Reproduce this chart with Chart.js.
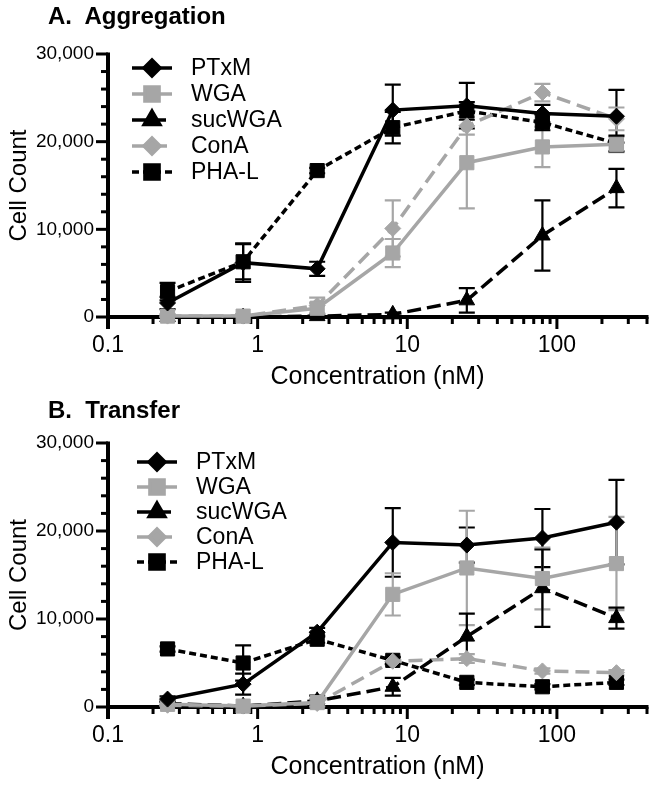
<!DOCTYPE html>
<html>
<head>
<meta charset="utf-8">
<script src="https://cdn.jsdelivr.net/npm/chart.js@4.4.0/dist/chart.umd.min.js"></script>
<style>
    html, body { margin: 0; padding: 0; background: #fff; }
    body { width: 658px; height: 789px; position: relative; overflow: hidden; font-family: "Liberation Sans", Arial, sans-serif; }
    .panel { position: absolute; left: 0; width: 658px; height: 399px; }
    .panel-title { position: absolute; left: 48px; font-weight: bold; font-size: 24px; line-height: 28px; color: #000; white-space: pre; }
</style>
</head>
<body>
<div class="panel" style="top:0"><canvas id="aggChart" width="658" height="399"></canvas></div>
<div class="panel-title" style="top:2px">A.  Aggregation</div>
<div class="panel" style="top:390px"><canvas id="transChart" width="658" height="399"></canvas></div>
<div class="panel-title" style="top:396px">B.  Transfer</div>

<script>
// concentrations (nM), shared by both panels
const concentrations = [0.25, 0.8, 2.5, 8, 25, 80, 250];
const xTickValues = [0.1, 1, 10, 100];
const yTickValues = [0, 10000, 20000, 30000];
const seriesNames = ['PTxM', 'WGA', 'sucWGA', 'ConA', 'PHA-L'];

// A. Aggregation - mean cell count and error
const ptxmAgg = [1600, 6200, 5500, 23600, 24100, 23200, 22900];
const ptxmAggErr = [700, 2200, 800, 2900, 2600, 1000, 3000];
const wgaAgg = [100, 100, 1000, 7300, 17600, 19400, 19700];
const wgaAggErr = [200, 200, 600, 1600, 5200, 2300, 900];
const sucAgg = [0, 0, 100, 300, 1900, 9300, 14700];
const sucAggErr = [0, 0, 200, 200, 1400, 4000, 2200];
const conaAgg = [100, 100, 1300, 10100, 21800, 25600, 22600];
const conaAggErr = [200, 200, 900, 3200, 1000, 1000, 1300];
const phalAgg = [2900, 6300, 16700, 21600, 23500, 22200, 19800];
const phalAggErr = [1000, 2000, 300, 1800, 1000, 900, 900];

// B. Transfer
const ptxmTr = [900, 2600, 8500, 18700, 18400, 19200, 21000];
const ptxmTrErr = [300, 1200, 500, 3900, 2000, 3300, 4800];
const wgaTr = [300, 100, 500, 12800, 15800, 14600, 16300];
const wgaTrErr = [200, 100, 400, 2400, 6500, 3500, 5300];
const sucTr = [400, 100, 700, 2300, 8000, 13500, 10100];
const sucTrErr = [200, 100, 600, 1000, 2600, 4400, 1200];
const conaTr = [200, 100, 400, 5200, 5500, 4100, 3900];
const conaTrErr = [100, 100, 300, 400, 500, 300, 300];
const phalTr = [6600, 5000, 7700, 5300, 2800, 2300, 2800];
const phalTrErr = [300, 2000, 400, 400, 300, 300, 300];

const BLACK = '#000000';
const GRAY = '#a6a6a6';

Chart.defaults.font.family = "'Liberation Sans', Arial, sans-serif";
Chart.defaults.color = '#000';

const seriesStyles = [
    { color: BLACK, dash: [], point: 'rectRot', radius: 8 },
    { color: GRAY, dash: [], point: 'rect', radius: 10 },
    { color: BLACK, dash: [14, 6], point: 'triangle', radius: 9 },
    { color: GRAY, dash: [14, 7], point: 'rectRot', radius: 8 },
    { color: BLACK, dash: [7, 4], point: 'rect', radius: 10 }
];

function makeDatasets(values, errors) {
    return values.map(function(vals, i) {
        const s = seriesStyles[i];
        return {
            label: seriesNames[i],
            data: concentrations.map(function(c, j) { return { x: c, y: vals[j] }; }),
            errors: errors[i],
            borderColor: s.color,
            backgroundColor: s.color,
            borderWidth: 3.5,
            borderDash: s.dash,
            pointStyle: s.point,
            pointRadius: s.radius,
            pointBorderWidth: 1,
            pointBackgroundColor: s.color,
            pointBorderColor: s.color,
            tension: 0,
            clip: false
        };
    });
}

// Prism-like axes, error bars and legend
const prismPlugin = {
    id: 'prism',
    beforeDatasetsDraw(chart) {
        const ctx = chart.ctx;
        const area = chart.chartArea;
        const xs = chart.scales.x;
        const ys = chart.scales.y;
        ctx.save();
        ctx.strokeStyle = '#000';
        ctx.lineCap = 'butt';

        // y ticks (minor every 2000)
        ctx.lineWidth = 3;
        for (let v = 0; v <= 30000; v += 2000) {
            const y = ys.getPixelForValue(v);
            const len = v % 10000 === 0 ? 12 : 7;
            ctx.beginPath();
            ctx.moveTo(area.left, y);
            ctx.lineTo(area.left - len, y);
            ctx.stroke();
        }
        // x ticks (log minor)
        for (let e = -1; e <= 2; e++) {
            for (let m = 1; m <= 9; m++) {
                const v = m * Math.pow(10, e);
                if (v > xs.max * 1.0001) break;
                const x = xs.getPixelForValue(v);
                const len = m === 1 ? 12 : 7;
                ctx.beginPath();
                ctx.moveTo(x, area.bottom);
                ctx.lineTo(x, area.bottom + len);
                ctx.stroke();
            }
        }
        // axis lines
        ctx.lineWidth = 4;
        ctx.beginPath();
        ctx.moveTo(area.left, area.top - 1.5);
        ctx.lineTo(area.left, area.bottom + 12);
        ctx.moveTo(area.left - 2, area.bottom);
        ctx.lineTo(area.right + 1.5, area.bottom);
        ctx.stroke();

        // error bars
        chart.data.datasets.forEach(function(ds) {
            ctx.strokeStyle = ds.borderColor;
            ctx.lineWidth = 2.2;
            ds.data.forEach(function(p, j) {
                const err = ds.errors[j];
                if (!err) return;
                const x = xs.getPixelForValue(p.x);
                const yTop = ys.getPixelForValue(p.y + err);
                const yBot = ys.getPixelForValue(Math.max(p.y - err, 0));
                ctx.beginPath();
                ctx.moveTo(x, yTop);
                ctx.lineTo(x, yBot);
                ctx.moveTo(x - 8, yTop);
                ctx.lineTo(x + 8, yTop);
                ctx.moveTo(x - 8, yBot);
                ctx.lineTo(x + 8, yBot);
                ctx.stroke();
            });
        });
        ctx.restore();
    },
    afterDraw(chart, args, opts) {
        const ctx = chart.ctx;
        ctx.save();
        chart.data.datasets.forEach(function(ds, i) {
            const y = opts.legendY + i * opts.legendStep;
            ctx.strokeStyle = ds.borderColor;
            ctx.lineWidth = 3.5;
            ctx.setLineDash(ds.borderDash);
            ctx.beginPath();
            ctx.moveTo(opts.legendX, y);
            ctx.lineTo(opts.legendX + 40, y);
            ctx.stroke();
            ctx.setLineDash([]);
            ctx.fillStyle = ds.pointBackgroundColor;
            Chart.helpers.drawPoint(ctx, {
                pointStyle: ds.pointStyle,
                radius: ds.pointRadius,
                rotation: 0,
                borderWidth: 1
            }, opts.legendX + 20, y);
            ctx.fillStyle = '#000';
            ctx.font = "23px 'Liberation Sans', Arial, sans-serif";
            ctx.textBaseline = 'middle';
            ctx.textAlign = 'left';
            ctx.fillText(ds.label, opts.legendX + 59, y + 1);
        });
        ctx.restore();
    }
};

function makeChart(canvasId, datasets, padTop, legend) {
    return new Chart(document.getElementById(canvasId), {
        type: 'line',
        data: { datasets: datasets },
        options: {
            responsive: false,
            animation: false,
            layout: { padding: { top: padTop, left: 0, right: 11, bottom: 0 } },
            plugins: {
                legend: { display: false },
                tooltip: { enabled: false },
                prism: legend
            },
            scales: {
                x: {
                    type: 'logarithmic',
                    min: 0.1,
                    max: 400,
                    bounds: 'data',
                    afterBuildTicks: function(scale) {
                        scale.ticks = xTickValues.map(function(v) { return { value: v }; });
                    },
                    afterFit: function(scale) { scale.height = 82; },
                    grid: { display: false, drawTicks: false },
                    border: { display: false },
                    ticks: {
                        autoSkip: false,
                        maxRotation: 0,
                        padding: 15,
                        font: { size: 23 },
                        callback: function(v) { return String(v); }
                    },
                    title: {
                        display: true,
                        text: 'Concentration (nM)',
                        font: { size: 25 },
                        padding: { top: 0, bottom: 7 }
                    }
                },
                y: {
                    min: 0,
                    max: 30000,
                    afterBuildTicks: function(scale) {
                        scale.ticks = yTickValues.map(function(v) { return { value: v }; });
                    },
                    afterFit: function(scale) { scale.width = 108; },
                    grid: { display: false, drawTicks: false },
                    border: { display: false },
                    ticks: {
                        padding: 14,
                        font: { size: 19 },
                        callback: function(v) { return v.toLocaleString('en-US'); }
                    },
                    title: {
                        display: true,
                        text: 'Cell Count',
                        font: { size: 24 },
                        padding: { top: 5, bottom: 0 }
                    }
                }
            }
        },
        plugins: [prismPlugin]
    });
}

makeChart('aggChart',
    makeDatasets([ptxmAgg, wgaAgg, sucAgg, conaAgg, phalAgg],
                 [ptxmAggErr, wgaAggErr, sucAggErr, conaAggErr, phalAggErr]),
    54, { legendX: 132, legendY: 68, legendStep: 26 });

makeChart('transChart',
    makeDatasets([ptxmTr, wgaTr, sucTr, conaTr, phalTr],
                 [ptxmTrErr, wgaTrErr, sucTrErr, conaTrErr, phalTrErr]),
    53, { legendX: 137, legendY: 72, legendStep: 25 });
</script>
</body>
</html>
